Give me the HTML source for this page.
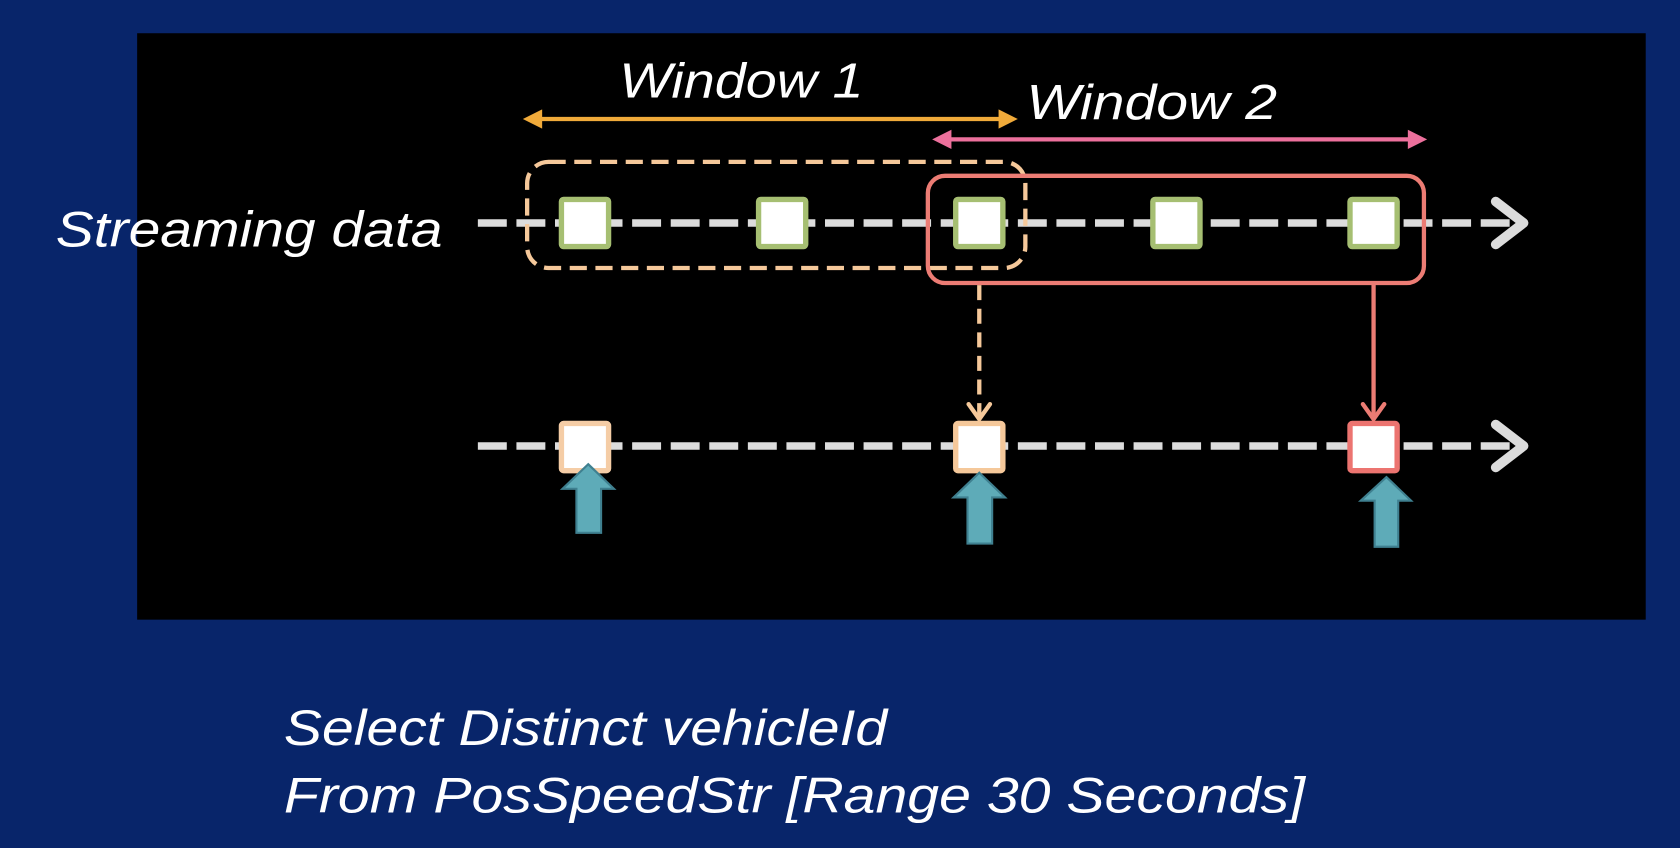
<!DOCTYPE html>
<html><head><style>
html,body{margin:0;padding:0;background:#08256a;}
svg{display:block;}
text{font-family:"Liberation Sans",sans-serif;font-style:italic;fill:#fff;}
</style></head><body>
<svg width="1680" height="848" viewBox="0 0 1568 791" preserveAspectRatio="none" xmlns="http://www.w3.org/2000/svg">
<rect x="0" y="0" width="1568" height="791" fill="#08256a"/>
<rect x="128" y="31" width="1408" height="547" fill="#000"/>
<g stroke="#dcdcdc" stroke-width="7" fill="none">
<line x1="446" y1="208" x2="1420" y2="208" stroke-dasharray="27 9"/>
<line x1="446" y1="416" x2="1420" y2="416" stroke-dasharray="27 9"/>
<polyline points="1396,188 1422,208 1396,228" stroke-linecap="round" stroke-linejoin="round" stroke-width="9"/>
<polyline points="1396,396 1422,416 1396,436" stroke-linecap="round" stroke-linejoin="round" stroke-width="9"/>
</g>
<rect x="492" y="151" width="465" height="99" rx="20" fill="none" stroke="#f5c89a" stroke-width="4" stroke-dasharray="16 8"/>
<rect x="866" y="164" width="463" height="100" rx="16" fill="none" stroke="#ec7c74" stroke-width="4"/>
<g fill="#fff" stroke="#a6bf72" stroke-width="5">
<rect x="524" y="186" width="44" height="44" rx="2"/>
<rect x="708" y="186" width="44" height="44" rx="2"/>
<rect x="892" y="186" width="44" height="44" rx="2"/>
<rect x="1076" y="186" width="44" height="44" rx="2"/>
<rect x="1260" y="186" width="44" height="44" rx="2"/>
</g>
<rect x="524" y="395" width="44" height="44" rx="2" fill="#fff" stroke="#f5cda6" stroke-width="5"/>
<rect x="892" y="395" width="44" height="44" rx="2" fill="#fff" stroke="#f5c89a" stroke-width="5"/>
<rect x="1260" y="395" width="44" height="44" rx="2" fill="#fff" stroke="#ec7470" stroke-width="5"/>
<line x1="914" y1="266" x2="914" y2="388" stroke="#f5c89a" stroke-width="4" stroke-dasharray="14 8"/>
<polyline points="904,377 914,391 924,377" fill="none" stroke="#f5c89a" stroke-width="4" stroke-linecap="round"/>
<line x1="1282" y1="264" x2="1282" y2="390" stroke="#ec7c74" stroke-width="4"/>
<polyline points="1272,377 1282,391 1292,377" fill="none" stroke="#ec7c74" stroke-width="4" stroke-linecap="round"/>
<g fill="#5eabb8" stroke="#3f8090" stroke-width="2">
<polygon points="549,433 573,456 561,456 561,497 538,497 538,456 525,456"/>
<polygon points="914,441 938,464 926,464 926,507 903,507 903,464 890,464"/>
<polygon points="1294,445 1317,467 1305,467 1305,510 1283,510 1283,467 1270,467"/>
</g>
<line x1="498" y1="111" x2="940" y2="111" stroke="#f0aa3a" stroke-width="4"/>
<polygon points="488,111 506,102 506,120" fill="#f0aa3a"/>
<polygon points="950,111 932,102 932,120" fill="#f0aa3a"/>
<line x1="880" y1="130" x2="1322" y2="130" stroke="#ec709c" stroke-width="4"/>
<polygon points="870,130 888,121 888,139" fill="#ec709c"/>
<polygon points="1332,130 1314,121 1314,139" fill="#ec709c"/>
<text x="578" y="91" font-size="46" textLength="228" lengthAdjust="spacingAndGlyphs">Window 1</text>
<text x="958" y="111" font-size="46" textLength="234" lengthAdjust="spacingAndGlyphs">Window 2</text>
<text x="52" y="230" font-size="47" textLength="361" lengthAdjust="spacingAndGlyphs">Streaming data</text>
<text x="265" y="695" font-size="47" textLength="563" lengthAdjust="spacingAndGlyphs">Select Distinct vehicleId</text>
<text x="265" y="758" font-size="47" textLength="953" lengthAdjust="spacingAndGlyphs">From PosSpeedStr [Range 30 Seconds]</text>
</svg>
</body></html>
